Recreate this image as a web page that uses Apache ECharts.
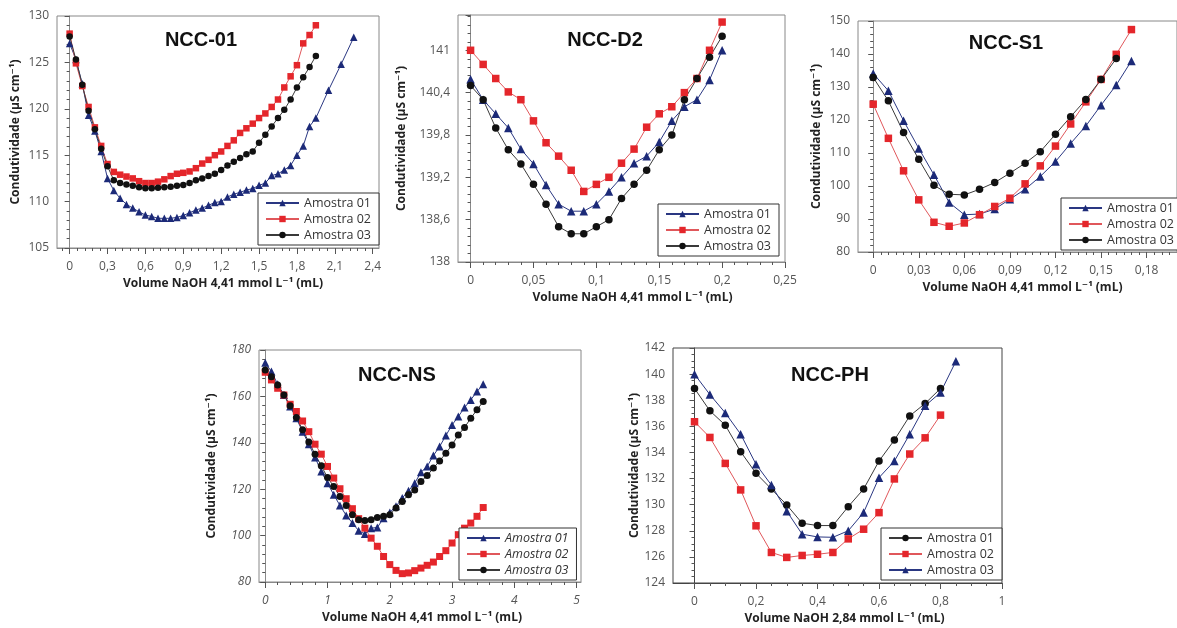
<!DOCTYPE html>
<html><head><meta charset="utf-8">
<script src="https://cdn.jsdelivr.net/npm/echarts@6/dist/echarts.min.js"></script>
<style>html,body{margin:0;padding:0;background:#fff}#c{width:1177px;height:628px}</style>
</head><body><div id="c"></div>
<script>
// ---------- DATA ----------
// NCC-01
const ncc01_x_a01 = [0,0.05,0.1,0.15,0.2,0.25,0.3,0.35,0.4,0.45,0.5,0.55,0.6,0.65,0.7,0.75,0.8,0.85,0.9,0.95,1,1.05,1.1,1.15,1.2,1.25,1.3,1.35,1.4,1.45,1.5,1.55,1.6,1.65,1.7,1.75,1.8,1.85,1.9,1.95,2.05,2.15,2.25];
const ncc01_y_a01 = [127.05,125.3,122.7,119.3,117.6,115.4,112.5,111.2,110.35,109.7,109.3,108.9,108.55,108.4,108.2,108.2,108.2,108.3,108.5,108.8,109.1,109.3,109.6,109.9,110.0,110.5,110.8,111.0,111.25,111.4,111.75,112.0,112.8,113.0,113.4,113.9,115.0,116.0,118.1,119.0,122.0,124.8,127.7];
const ncc01_x_a02 = [0,0.05,0.1,0.15,0.2,0.25,0.3,0.35,0.4,0.45,0.5,0.55,0.6,0.65,0.7,0.75,0.8,0.85,0.9,0.95,1,1.05,1.1,1.15,1.2,1.25,1.3,1.35,1.4,1.45,1.5,1.55,1.6,1.65,1.7,1.75,1.8,1.85,1.9,1.95];
const ncc01_y_a02 = [128.1,124.9,122.45,120.2,118.0,116.0,114.05,113.2,112.9,112.7,112.5,112.2,112.0,112.0,112.15,112.4,112.75,113.0,113.1,113.25,113.6,114.1,114.5,115.0,115.4,116.0,116.6,117.4,117.9,118.4,119.0,119.5,120.2,121.0,122.3,123.5,124.7,127.05,127.95,129.0];
const ncc01_x_a03 = [0,0.05,0.1,0.15,0.2,0.25,0.3,0.35,0.4,0.45,0.5,0.55,0.6,0.65,0.7,0.75,0.8,0.85,0.9,0.95,1,1.05,1.1,1.15,1.2,1.25,1.3,1.35,1.4,1.45,1.5,1.55,1.6,1.65,1.7,1.75,1.8,1.85,1.9,1.95];
const ncc01_y_a03 = [127.8,125.3,122.6,119.8,117.8,115.7,113.8,112.3,112.0,111.85,111.7,111.55,111.45,111.45,111.5,111.55,111.6,111.7,111.8,112.0,112.3,112.5,112.75,113.0,113.4,113.9,114.3,114.7,115.1,115.4,116.35,117.2,118.1,119.0,119.9,121.0,122.3,123.4,124.5,125.7];
const ncc01_xTicks = [0,0.3,0.6,0.9,1.2,1.5,1.8,2.1,2.4];

// NCC-D2
const d2_x = [0,0.01,0.02,0.03,0.04,0.05,0.06,0.07,0.08,0.09,0.1,0.11,0.12,0.13,0.14,0.15,0.16,0.17,0.18,0.19,0.2];
const d2_y_a01 = [140.59,140.3,140.1,139.9,139.6,139.39,139.09,138.82,138.72,138.72,138.82,139.0,139.2,139.4,139.5,139.7,140.0,140.2,140.3,140.58,141.0];
const d2_y_a02 = [141.0,140.8,140.6,140.41,140.3,140.0,139.69,139.5,139.3,139.0,139.1,139.2,139.4,139.6,139.91,140.1,140.2,140.4,140.6,141.0,141.4];
const d2_y_a03 = [140.5,140.3,139.9,139.59,139.39,139.1,138.82,138.5,138.4,138.4,138.5,138.6,138.9,139.1,139.3,139.59,139.8,140.3,140.6,140.9,141.2];
const d2_xTicks = [0,0.05,0.1,0.15,0.2,0.25];

// NCC-S1
const s1_x_a01 = [0,0.01,0.02,0.03,0.04,0.05,0.06,0.07,0.08,0.09,0.1,0.11,0.12,0.13,0.14,0.15,0.16,0.17];
const s1_y_a01 = [134.1,128.85,119.8,111.4,103.4,95.0,91.3,91.5,93.0,96.0,99.0,102.9,107.4,112.9,118.2,124.5,130.6,137.9];
const s1_x_a02 = [0,0.01,0.02,0.03,0.04,0.05,0.06,0.07,0.08,0.09,0.1,0.11,0.12,0.13,0.14,0.15,0.16,0.17];
const s1_y_a02 = [124.8,114.45,104.6,95.8,89.0,87.8,88.8,91.3,93.8,96.3,100.65,106.1,112.1,118.8,125.5,132.3,139.9,147.4];
const s1_x_a03 = [0,0.01,0.02,0.03,0.04,0.05,0.06,0.07,0.08,0.09,0.1,0.11,0.12,0.13,0.14,0.15,0.16];
const s1_y_a03 = [132.9,125.8,116.2,108.1,100.2,97.5,97.3,99.0,101.05,103.9,106.9,110.4,115.7,121.0,126.2,132.3,138.6];
const s1_xTicks = [0,0.03,0.06,0.09,0.12,0.15,0.18];

// NCC-NS
const ns_x = [0,0.1,0.2,0.3,0.4,0.5,0.6,0.7,0.8,0.9,1,1.1,1.2,1.3,1.4,1.5,1.6,1.7,1.8,1.9,2,2.1,2.2,2.3,2.4,2.5,2.6,2.7,2.8,2.9,3,3.1,3.2,3.3,3.4,3.5];
const ns_y_a01 = [174.5,170.7,165.2,160.6,155.6,150.6,144.8,139.4,133.7,127.6,122.6,117.6,113.0,108.7,105.4,102.1,100.7,103.2,103.5,107.5,110.0,112.6,116.2,119.3,122.6,127.3,129.8,134.5,138.4,143.1,147.7,151.3,155.2,158.5,162.1,165.2];
const ns_y_a02 = [170.4,167.1,163.5,160.6,156.6,153.5,149.4,144.8,139.4,135.1,129.8,124.8,120.2,115.9,111.6,107.3,103.2,98.9,95.4,91.0,87.5,85.0,83.6,83.9,84.9,86.0,87.2,88.6,91.0,93.5,96.8,100.4,103.2,105.4,108.3,112.1];
const ns_y_a03 = [171.4,168.5,164.9,160.6,156.0,150.9,145.6,140.3,135.1,130.1,125.0,121.2,116.9,113.0,109.0,106.8,106.5,106.8,107.8,108.3,109.0,111.9,114.7,117.6,119.7,123.3,125.9,129.1,132.2,135.5,139.1,143.4,146.6,150.6,154.2,157.8];
const ns_xTicks = [0,1,2,3,4,5];

// NCC-PH
const ph_x_a01 = [0,0.05,0.1,0.15,0.2,0.25,0.3,0.35,0.4,0.45,0.5,0.55,0.6,0.65,0.7,0.75,0.8];
const ph_y_a01 = [138.9,137.19,136.09,134.06,132.4,131.2,129.98,128.58,128.4,128.4,129.85,131.2,133.34,134.95,136.8,137.75,138.9];
const ph_x_a02 = [0,0.05,0.1,0.15,0.2,0.25,0.3,0.35,0.4,0.45,0.5,0.55,0.6,0.65,0.7,0.75,0.8];
const ph_y_a02 = [136.35,135.15,133.16,131.13,128.38,126.34,125.96,126.11,126.2,126.34,127.38,128.12,129.39,131.97,133.88,135.12,136.86];
const ph_x_a03 = [0,0.05,0.1,0.15,0.2,0.25,0.3,0.35,0.4,0.45,0.5,0.55,0.6,0.65,0.7,0.75,0.8,0.85];
const ph_y_a03 = [139.99,138.43,137.03,135.4,133.09,131.5,129.5,127.74,127.53,127.5,128.0,129.4,132.07,133.34,135.4,137.57,138.59,140.98];
const ph_xTicks = [0,0.2,0.4,0.6,0.8,1];

// ---------- STYLE / LAYOUT ----------
const FONT = '"Open Sans", "DejaVu Sans", sans-serif';
const BLUE = '#1c2a78', RED = '#e4262b', BLACK = '#111111';
const LINE = { [BLUE]: '#2a3782', [RED]: '#e0575b', [BLACK]: '#3a3a3a' };
const fmt = v => String(Math.round(v * 10000) / 10000).replace('.', ',');
function steps(a, b, s) { const o = []; const n = Math.round((b - a) / s); for (let i = 0; i <= n; i++) o.push(+(a + i * s).toFixed(6)); return o; }

const panels = [
  { id: 'p1', title: 'NCC-01', tx: 201, ty: 40, grid: [57, 16, 322, 232], xr: [-0.1, 2.45], xTicks: ncc01_xTicks, xMinor: steps(-0.06, 2.4, 0.06),
    yr: [105, 130], yInt: 5, ySplit: 5, xName: 'Volume NaOH 4,41 mmol L⁻¹ (mL)', xShift: 5, yGap: 35, legend: [258, 193], sym: 6.5,
    series: [ { name: 'Amostra 01', symbol: 'triangle', color: BLUE, x: ncc01_x_a01, y: ncc01_y_a01 },
              { name: 'Amostra 02', symbol: 'rect', color: RED, x: ncc01_x_a02, y: ncc01_y_a02 },
              { name: 'Amostra 03', symbol: 'circle', color: BLACK, x: ncc01_x_a03, y: ncc01_y_a03 } ] },
  { id: 'p2', title: 'NCC-D2', tx: 605, ty: 40, grid: [458, 15, 327, 247], xr: [-0.01, 0.25], xTicks: d2_xTicks, xMinor: steps(0, 0.25, 0.01),
    yr: [138, 141.5], yInt: 0.6, ySplit: 5, hideMax: true, xName: 'Volume NaOH 4,41 mmol L⁻¹ (mL)', xShift: 11, yGap: 50, legend: [658, 204], sym: 7.5,
    series: [ { name: 'Amostra 01', symbol: 'triangle', color: BLUE, x: d2_x, y: d2_y_a01 },
              { name: 'Amostra 02', symbol: 'rect', color: RED, x: d2_x, y: d2_y_a02 },
              { name: 'Amostra 03', symbol: 'circle', color: BLACK, x: d2_x, y: d2_y_a03 } ] },
  { id: 'p3', title: 'NCC-S1', tx: 1006, ty: 43, grid: [858, 21, 323, 231], xr: [-0.01, 0.2], xTicks: s1_xTicks, xMinor: steps(0, 0.2, 0.005),
    yr: [80, 150], yInt: 10, ySplit: 5, xName: 'Volume NaOH 4,41 mmol L⁻¹ (mL)', xShift: 5, yGap: 35, legend: [1061, 198], sym: 7.5,
    series: [ { name: 'Amostra 01', symbol: 'triangle', color: BLUE, x: s1_x_a01, y: s1_y_a01 },
              { name: 'Amostra 02', symbol: 'rect', color: RED, x: s1_x_a02, y: s1_y_a02 },
              { name: 'Amostra 03', symbol: 'circle', color: BLACK, x: s1_x_a03, y: s1_y_a03 } ] },
  { id: 'p4', title: 'NCC-NS', tx: 397, ty: 375, grid: [259, 350, 322, 232], xr: [-0.1, 5.07], xTicks: ns_xTicks, xMinor: steps(0, 5, 0.2),
    yr: [80, 180], yInt: 20, ySplit: 5, italic: true, xName: 'Volume NaOH 4,41 mmol L⁻¹ (mL)', xShift: 2, yGap: 41, legend: [459, 528], sym: 7,
    series: [ { name: 'Amostra 01', symbol: 'triangle', color: BLUE, x: ns_x, y: ns_y_a01 },
              { name: 'Amostra 02', symbol: 'rect', color: RED, x: ns_x, y: ns_y_a02 },
              { name: 'Amostra 03', symbol: 'circle', color: BLACK, x: ns_x, y: ns_y_a03 } ] },
  { id: 'p5', title: 'NCC-PH', tx: 830, ty: 375, grid: [673, 348, 329, 235], xr: [-0.07, 1.0], xTicks: ph_xTicks, xMinor: steps(0, 1, 0.05),
    yr: [124, 142], yInt: 2, ySplit: 4, dark: true, xName: 'Volume NaOH 2,84 mmol L⁻¹ (mL)', xShift: 7, yGap: 30, legend: [881, 528], sym: 7.5,
    series: [ { name: 'Amostra 01', symbol: 'circle', color: BLACK, x: ph_x_a01, y: ph_y_a01 },
              { name: 'Amostra 02', symbol: 'rect', color: RED, x: ph_x_a02, y: ph_y_a02 },
              { name: 'Amostra 03', symbol: 'triangle', color: BLUE, x: ph_x_a03, y: ph_y_a03 } ] }
];

const option = { animation: false, grid: [], xAxis: [], yAxis: [], series: [], legend: [], graphic: [] };
const nameStyle = { fontFamily: FONT, fontWeight: 'bold', fontSize: 12, color: '#222' };

panels.forEach((p, i) => {
  const axisCol = p.dark ? '#444' : '#888';
  option.grid.push({ left: p.grid[0], top: p.grid[1], width: p.grid[2], height: p.grid[3], show: true, borderColor: axisCol, borderWidth: 1 });
  const labelStyle = { fontFamily: FONT, fontSize: 12, color: '#555', fontStyle: p.italic ? 'italic' : 'normal' };
  option.xAxis.push({
    type: 'value', gridIndex: i, min: p.xr[0], max: p.xr[1], position: 'bottom',
    axisLine: { show: true, onZero: false, lineStyle: { color: axisCol } },
    axisTick: { show: true, customValues: p.xTicks, length: 6, lineStyle: { color: '#555' } },
    axisLabel: Object.assign({ customValues: p.xTicks, formatter: fmt, margin: 13 }, labelStyle),
    splitLine: { show: false },
    name: p.xName, nameLocation: 'middle', nameGap: 30,
    nameTextStyle: Object.assign({ padding: [0, 0, 0, 2 * p.xShift] }, nameStyle)
  });
  option.xAxis.push({
    type: 'value', gridIndex: i, min: p.xr[0], max: p.xr[1], position: 'bottom',
    axisLine: { show: false, onZero: false },
    axisTick: { show: true, customValues: p.xMinor, length: 3, lineStyle: { color: '#555' } },
    axisLabel: { show: false }, splitLine: { show: false }
  });
  option.yAxis.push({
    type: 'value', gridIndex: i, min: p.yr[0], max: p.yr[1], interval: p.yInt,
    axisLine: { show: true, lineStyle: { color: axisCol } },
    axisTick: { show: true, length: 5, lineStyle: { color: '#555' } },
    minorTick: { show: true, splitNumber: p.ySplit, length: 3, lineStyle: { color: '#555' } },
    axisLabel: Object.assign({ formatter: fmt, margin: 8, showMaxLabel: !p.hideMax }, labelStyle),
    splitLine: { show: false },
    name: 'Condutividade (µS cm⁻¹)', nameLocation: 'middle', nameGap: p.yGap, nameTextStyle: nameStyle
  });
  p.series.forEach(s => {
    option.series.push({
      type: 'line', name: p.id + '|' + s.name, xAxisIndex: 2 * i, yAxisIndex: i,
      data: s.x.map((v, k) => [v, s.y[k]]),
      symbol: s.symbol, symbolSize: s.symbol === 'triangle' ? p.sym + 1 : p.sym, showAllSymbol: true,
      itemStyle: { color: s.color }, lineStyle: { color: LINE[s.color], width: 1 },
      emphasis: { disabled: true }
    });
  });
  option.legend.push({
    data: p.series.map(s => p.id + '|' + s.name), left: p.legend[0], top: p.legend[1],
    orient: 'vertical', formatter: n => n.split('|')[1], selectedMode: false,
    borderColor: '#333', borderWidth: 1, backgroundColor: '#fff', borderRadius: 0,
    padding: [3, 8, 3, 7], itemGap: 2, itemWidth: 33, itemHeight: 8,
    textStyle: { fontFamily: FONT, fontSize: 12.5, lineHeight: 14, color: '#333', fontStyle: p.italic ? 'italic' : 'normal' }
  });
  option.graphic.push({
    type: 'text', x: p.tx, y: p.ty, silent: true,
    style: { text: p.title, textAlign: 'center', textVerticalAlign: 'middle', font: 'bold 20px "Liberation Sans", Arial, sans-serif', fill: '#111' }
  });
});

const chart = echarts.init(document.getElementById('c'), null, { renderer: 'canvas' });
chart.setOption(option);
</script></body></html>
